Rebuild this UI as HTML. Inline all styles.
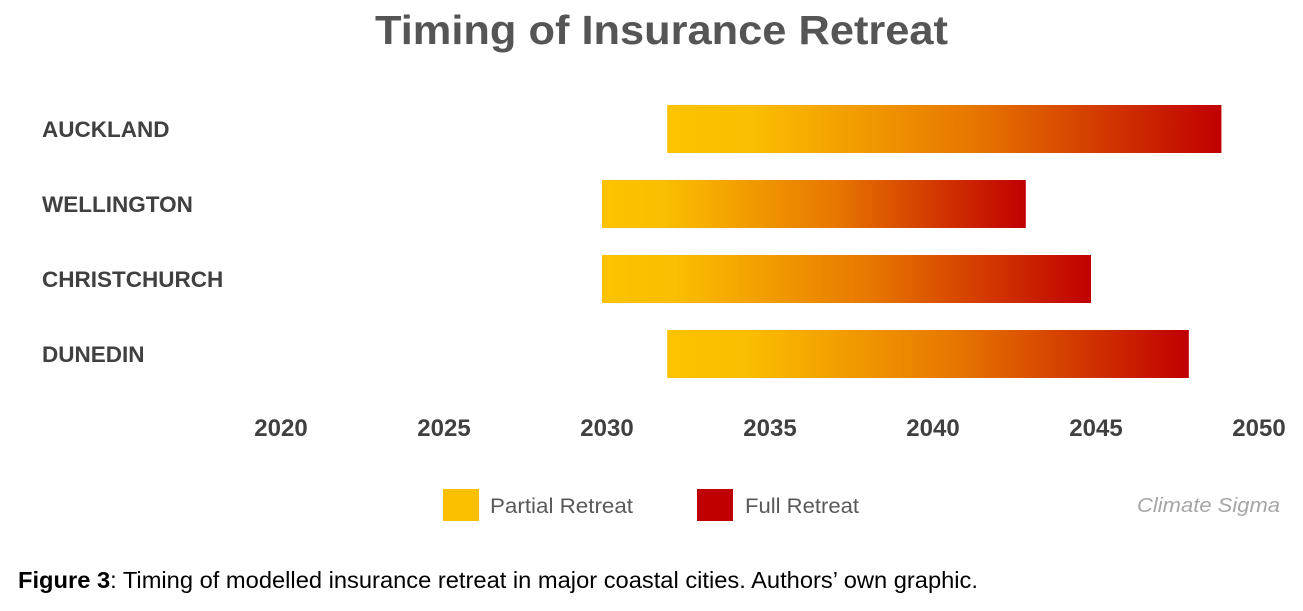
<!DOCTYPE html>
<html><head><meta charset="utf-8"><style>
html,body{margin:0;padding:0;background:#fff;width:1303px;height:611px;overflow:hidden}
svg text{font-family:"Liberation Sans",sans-serif}
</style></head><body>
<svg id="chart" width="1303" height="611" xmlns="http://www.w3.org/2000/svg">
<defs>
<linearGradient id="g" x1="0" x2="1" y1="0" y2="0">
<stop offset="0" stop-color="#FEC200"/><stop offset="0.15" stop-color="#FBBE00"/>
<stop offset="0.55" stop-color="#E77700"/><stop offset="1" stop-color="#C00000"/>
</linearGradient>
</defs>
<text x="375" y="44" font-size="41" font-weight="bold" fill="#555555" textLength="573" lengthAdjust="spacingAndGlyphs">Timing of Insurance Retreat</text>
<g id="bars"></g>
<g id="ticks"></g>
<g>
<rect x="443" y="489" width="36" height="32" fill="#FDC000"/>
<text x="490" y="513" font-size="21" fill="#595959" textLength="143" lengthAdjust="spacingAndGlyphs">Partial Retreat</text>
<rect x="697" y="489" width="36" height="32" fill="#C00000"/>
<text x="745" y="513" font-size="21" fill="#595959" textLength="114" lengthAdjust="spacingAndGlyphs">Full Retreat</text>
</g>
<text x="1137" y="512" font-size="20" font-style="italic" fill="#A6A6A6" textLength="143" lengthAdjust="spacingAndGlyphs">Climate Sigma</text>
<text x="18" y="588" font-size="23" fill="#000" textLength="960" lengthAdjust="spacingAndGlyphs"><tspan font-weight="bold">Figure 3</tspan>: Timing of modelled insurance retreat in major coastal cities. Authors’ own graphic.</text>
</svg>
<script>
const cities = ["AUCKLAND","WELLINGTON","CHRISTCHURCH","DUNEDIN"];
const startYears = [2032,2030,2030,2032];
const endYears = [2049,2043,2045,2048];
const tickYears = [2020,2025,2030,2035,2040,2045,2050];
const NS="http://www.w3.org/2000/svg";
function x(y){return 276+(y-2020)*32.6;}
function rowY(i){return 105+i*75;}
const bars=document.getElementById('bars');
cities.forEach((c,i)=>{
  const t=document.createElementNS(NS,'text');
  
  
  t.setAttribute('x',42);t.setAttribute('y',rowY(i)+32);
  t.setAttribute('font-size','22.5');t.setAttribute('font-weight','bold');t.setAttribute('fill','#404040');
  t.textContent=c;bars.appendChild(t);
  const r=document.createElementNS(NS,'rect');
  
  
  r.setAttribute('x',x(startYears[i]));r.setAttribute('y',rowY(i));
  r.setAttribute('width',x(endYears[i])-x(startYears[i]));r.setAttribute('height',48);
  r.setAttribute('fill','url(#g)');bars.appendChild(r);
});
const ticks=document.getElementById('ticks');
tickYears.forEach(y=>{
  const t=document.createElementNS(NS,'text');
  
  
  t.setAttribute('x',x(y)+5);t.setAttribute('y',436);
  t.setAttribute('text-anchor','middle');t.setAttribute('font-size','24');
  t.setAttribute('font-weight','bold');t.setAttribute('fill','#404040');
  t.textContent=y;ticks.appendChild(t);
});
</script>
</body></html>
